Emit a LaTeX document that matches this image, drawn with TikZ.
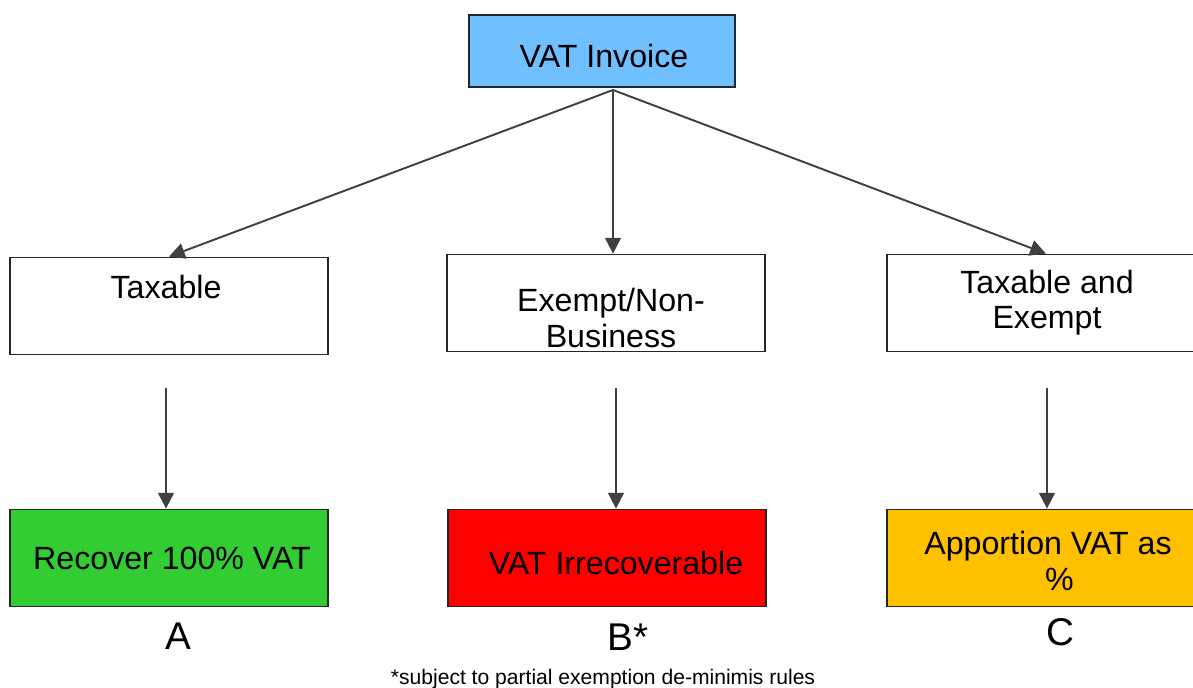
\documentclass[tikz,border=0pt]{standalone}
\usepackage{fontspec}
\setmainfont{Liberation Sans}
\usetikzlibrary{arrows.meta,positioning}
\definecolor{invblue}{RGB}{112,191,255}
\definecolor{recgreen}{RGB}{51,204,51}
\definecolor{irred}{RGB}{255,0,0}
\definecolor{appamber}{RGB}{255,192,0}

\begin{document}
\begin{tikzpicture}[x=0.02cm,y=-0.02cm,
    box/.style={draw=black!85,line width=1pt,minimum width=6.36cm,minimum height=1.94cm,inner sep=0pt},
    lbl/.style={font=\fontsize{18.3}{20}\selectfont,align=center,inner sep=0pt},
    flow/.style={draw=black!75,line width=1.1pt,-{Triangle[length=9pt,width=9pt]}},
    letter/.style={font=\fontsize{22}{24}\selectfont,inner sep=0pt}]
      \clip (0,0) rectangle (1193,688);
      % Top box
      \node[box,fill=invblue,minimum width=5.32cm,minimum height=1.44cm] (invoice) at (602,51) {};
      \node[lbl] (invoicelbl) at (604,56) {VAT Invoice};
      % Middle row
      \node[box] (tax) at (169,306) {};
      \node[lbl] (taxlbl) at (166,287) {Taxable};
      \node[box] (exempt) at (606,303) {};
      \node[lbl] (exemptlbl) at (611,318) {Exempt/Non-\\Business};
      \node[box] (mixed) at (1046,303) {};
      \node[lbl] (mixedlbl) at (1047,303) {Taxable and\\Exempt};
      % Bottom row
      \node[box,fill=recgreen] (rec) at (169,558) {};
      \node[lbl] (reclbl) at (172,558) {Recover 100\% VAT};
      \node[box,fill=irred] (irrec) at (607,558) {};
      \node[lbl] (irreclbl) at (616,563) {VAT Irrecoverable};
      \node[box,fill=appamber] (app) at (1046,558) {};
      \node[lbl] (applbl) at (1048,561) {Apportion VAT as\\\hspace*{13pt}\%};
      % Letters and note
      \node[letter] (la) at (178,636) {A};
      \node[letter] (lb) at (628,637) {B*};
      \node[letter] (lc) at (1060,632) {C};
      \node[font=\fontsize{12}{14}\selectfont,inner sep=0pt,anchor=base] (note) at (603,684) {*subject to partial exemption de-minimis rules};
      % Arrows from the invoice
      \coordinate (fork) at (613,90);
      \draw[flow] (fork) -- (tax.north);
      \draw[flow] (fork) -- (fork |- exempt.north);
      \draw[flow] (fork) -- (mixed.north);
      % Arrows down to the outcomes
      \coordinate (taxout) at (166,388);
      \coordinate (exemptout) at (616,388);
      \coordinate (mixedout) at (1047,388);
      \draw[flow] (taxout) -- (taxout |- rec.north);
      \draw[flow] (exemptout) -- (exemptout |- irrec.north);
      \draw[flow] (mixedout) -- (mixedout |- app.north);
\end{tikzpicture}
\end{document}
